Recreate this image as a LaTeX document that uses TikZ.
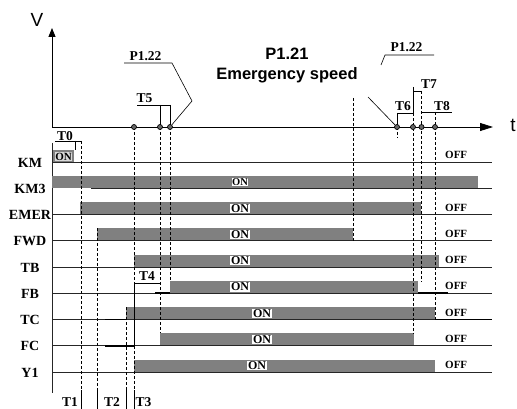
\documentclass[tikz,border=0pt]{standalone}
\usepackage{fontspec}
\setmainfont{Liberation Serif}
\setsansfont{Liberation Sans}
\usepackage{tikz}
\usetikzlibrary{positioning, arrows.meta}

\tikzset{
    signame/.style={font=\bfseries\fontsize{14}{14}\selectfont, inner sep=0pt},
    tname/.style={font=\bfseries\fontsize{13.5}{14}\selectfont, inner sep=0pt},
    onbox/.style={font=\bfseries\fontsize{12}{12}\selectfont, fill=white, inner sep=0.6pt},
    offtext/.style={font=\bfseries\fontsize{11}{11}\selectfont, inner sep=0pt, anchor=west},
    bigtext/.style={font=\sffamily\bfseries\fontsize{16.5}{17}\selectfont, inner sep=0pt},
    axtext/.style={font=\sffamily\fontsize{19}{19}\selectfont, inner sep=0pt},
    bar/.style={fill=black!50},
    level/.style={line width=0.8pt, black!85},
    heavy/.style={line width=1.6pt, black},
    guide/.style={dash pattern=on 3pt off 2pt, line width=0.6pt},
    tick/.style={line width=0.6pt},
    tdot/.style={circle, draw, fill=black!60, minimum size=5pt, inner sep=0pt, line width=0.7pt},
}

\begin{document}
\begin{tikzpicture}[x=1pt, y=-1pt]
    \useasboundingbox (0,0) rectangle (517,409);

    % assi
    \coordinate (o) at (52,127);
    \coordinate (vtop) at (52,28);
    \coordinate (tend) at (493,127);
    \draw[line width=0.8pt, -{Triangle[length=9pt, width=7pt]}] (o) -- (vtop);
    \draw[line width=0.8pt, -{Triangle[length=13pt, width=8pt]}] (o) -- (tend);
    \node[axtext] (v) at (37,20) {V};
    \node[axtext] (t) at (513,125) {t};
    \draw[level] (52,143) -- (52,393);

    \node[signame] (km) at (30,162.5) {KM};
    \node[signame] (km3) at (30,188.75) {KM3};
    \node[signame] (emer) at (30,215) {EMER};
    \node[signame] (fwd) at (30,241.25) {FWD};
    \node[signame] (tb) at (30,267.5) {TB};
    \node[signame] (fb) at (30,293.75) {FB};
    \node[signame] (tc) at (30,320) {TC};
    \node[signame] (fc) at (30,346.25) {FC};
    \node[signame] (y1) at (30,372.5) {Y1};

    % barre ON
    \fill[bar] (53,150) rectangle (74,162);
    \fill[bar] (52,175.75) rectangle (478,188.25);
    \fill[bar] (80,202) rectangle (421,214.5);
    \fill[bar] (97,228.25) rectangle (353,240.75);
    \fill[bar] (134,254.5) rectangle (439,267);
    \fill[bar] (170,280.75) rectangle (418,293.25);
    \fill[bar] (126,307) rectangle (435,319.5);
    \fill[bar] (160,333.25) rectangle (414,345.75);
    \fill[bar] (134,359.5) rectangle (435,372);

    \draw[level] (52,162) -- (492,162);
    \draw[level] (91,188.25) -- (492,188.25);
    \draw[level] (52,214.5) -- (492,214.5);
    \draw[level] (52,240.75) -- (492,240.75);
    \draw[level] (52,267) -- (492,267);
    \draw[level] (52,293.25) -- (492,293.25);
    \draw[level] (52,319.5) -- (492,319.5);
    \draw[level] (52,345.75) -- (492,345.75);
    \draw[level] (52,372) -- (492,372);

    \draw[heavy] (155,293.25) -- (170,293.25);
    \draw[heavy] (418,293.25) -- (448,293.25);
    \draw[heavy] (105,319.5) -- (126,319.5);
    \draw[heavy] (435,319.5) -- (492,319.5);
    \draw[heavy] (105,345.75) -- (134,345.75);

    \node[onbox, fill=black!15, font=\bfseries\fontsize{11}{11}\selectfont] (on0) at (63.5,156.5) {ON};
    \node[onbox, font=\bfseries\fontsize{10.5}{11}\selectfont] (on1) at (240,182) {ON};
    \node[onbox] (on2) at (240,208.25) {ON};
    \node[onbox] (on3) at (240,234.5) {ON};
    \node[onbox] (on4) at (240,260.75) {ON};
    \node[onbox] (on5) at (240,287) {ON};
    \node[onbox] (on6) at (262,313.25) {ON};
    \node[onbox] (on7) at (262,339.5) {ON};
    \node[onbox] (on8) at (257,365.75) {ON};

    \node[offtext] (off0) at (445,155) {OFF};
    \node[offtext] (off2) at (445,207.5) {OFF};
    \node[offtext] (off3) at (445,233.75) {OFF};
    \node[offtext] (off4) at (445,260) {OFF};
    \node[offtext] (off5) at (445,286.25) {OFF};
    \node[offtext] (off6) at (445,312.5) {OFF};
    \node[offtext] (off7) at (445,338.75) {OFF};
    \node[offtext] (off8) at (445,365) {OFF};

    % linee tratteggiate
    \draw[guide] (81,141) -- (81,390);
    \draw[guide] (97.5,228.25) -- (97.5,390);
    \draw[guide] (126.5,307) -- (126.5,390);
    \draw[guide] (134,127) -- (134,283);
    \draw[guide] (134,345.75) -- (134,390);
    \draw[guide] (160,127) -- (160,333.25);
    \draw[guide] (170,127) -- (170,280.75);
    \draw[guide] (353.5,98) -- (353.5,240.75);
    \draw[guide] (397,127) -- (397,138);
    \draw[guide] (413,113) -- (413,333.25);
    \draw[guide] (421.5,91) -- (421.5,282);
    \draw[guide] (435,112) -- (435,319.5);

    % intervalli T0 ... T8
    \draw[tick] (55,141) -- (82,141);
    \draw[tick] (75,141) -- (75,150);
    \node[tname] (t0) at (65,136) {T0};
    \draw[tick] (137,105) -- (171,105);
    \draw[tick] (160,105) -- (160,127);
    \draw[tick] (170,105) -- (170,127);
    \node[tname] (t5) at (144.5,98) {T5};
    \draw[tick] (134,283) -- (160,283);
    \draw[tick] (134,283) -- (134,345.75);
    \node[tname] (t4) at (147,276) {T4};
    \draw[tick] (397,113) -- (413,113);
    \draw[tick] (397,113) -- (397,127);
    \node[tname] (t6) at (403,106) {T6};
    \draw[tick] (413,91) -- (422,91);
    \draw[tick] (413,87) -- (413,113);
    \node[tname] (t7) at (429,84) {T7};
    \draw[tick] (422,112) -- (452,112);
    \node[tname] (t8) at (442,106) {T8};

    \draw[tick] (81,390) -- (81,409);
    \draw[tick] (97.5,390) -- (97.5,409);
    \draw[tick] (126.5,390) -- (126.5,409);
    \draw[tick] (134.5,390) -- (134.5,409);
    \node[tname] (t1) at (70,402) {T1};
    \node[tname] (t2) at (112,402) {T2};
    \node[tname] (t3) at (143.5,402) {T3};

    \node[tdot] (d1) at (134,127) {};
    \node[tdot] (d2) at (160,127) {};
    \node[tdot] (d3) at (170,127) {};
    \node[tdot] (d4) at (397,127) {};
    \node[tdot] (d5) at (413,127) {};
    \node[tdot] (d6) at (421.5,127) {};
    \node[tdot] (d7) at (435,127) {};

    % richiami P1.22 e P1.21
    \node[tname] (pa) at (145.5,56) {P1.22};
    \draw[tick] (124,63) -- (172,63) -- (192,101) -- (d3);
    \node[tname] (pb) at (406.5,47.5) {P1.22};
    \draw[tick] (381,65) -- (385,55) -- (434,55);
    \draw[tick] (368,97) -- (d4);
    \node[bigtext, anchor=base] (p121) at (287,60) {P1.21};
    \node[bigtext, below=7pt of p121] (espeed) {Emergency speed};

\end{tikzpicture}
\end{document}
